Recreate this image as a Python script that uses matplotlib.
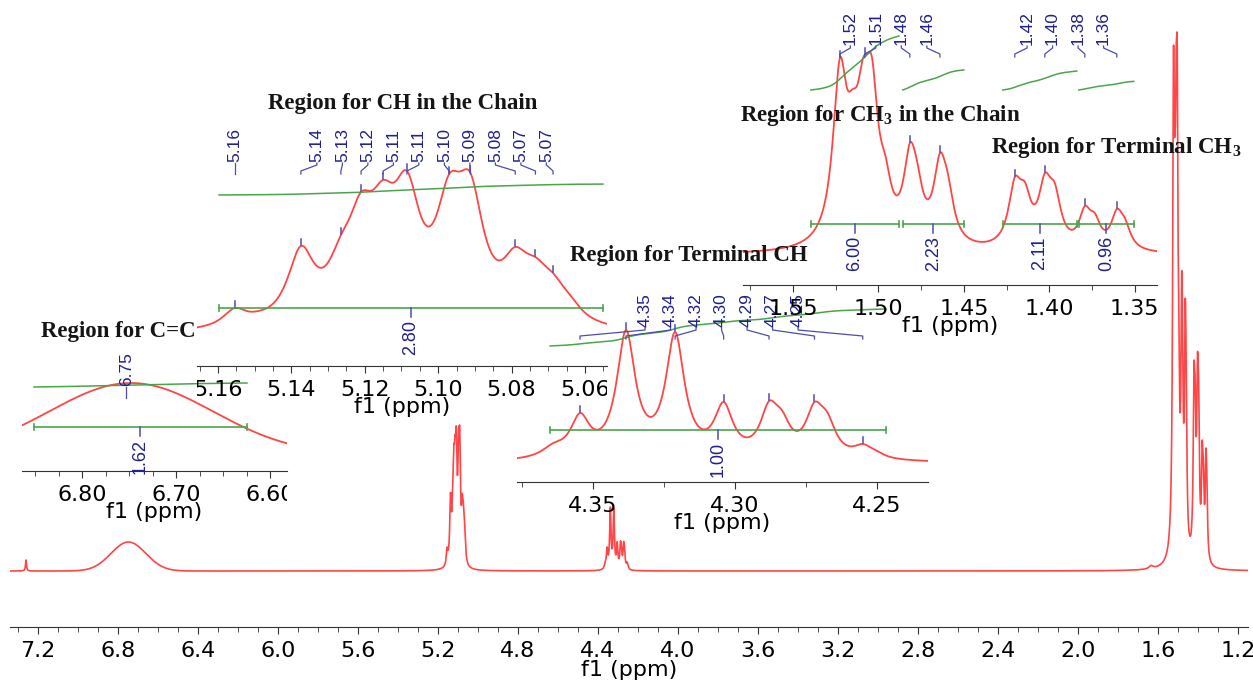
import numpy as np
import matplotlib
matplotlib.use("Agg")
import matplotlib.pyplot as plt
from matplotlib.transforms import Bbox, TransformedBbox

plt.rcParams["mathtext.fontset"] = "custom"
plt.rcParams["mathtext.rm"] = "Liberation Serif:bold"
plt.rcParams["mathtext.bf"] = "Liberation Serif:bold"

W, H = 1253, 683
RED = "#ff4545"
GREEN = "#4aa54a"
NAVY = "#1f1f8f"
BLUE = "#4c4cae"
LABEL_FONT = "Liberation Sans"
SERIF = "Liberation Serif"

# ---- data ----
# peaks: centre (ppm), height above the local baseline, half width (ppm)
cc_ppm = [6.748]
cc_height = [72]
cc_hwhm = [0.1025]

ch_ppm = [5.1554, 5.1490, 5.1374, 5.1265, 5.1210, 5.1150, 5.1085, 5.0970,
          5.0912, 5.0790, 5.0735, 5.0687, 5.0640]
ch_height = [27, 24, 89, 100, 143, 155, 164, 161, 162, 88, 78, 62, 40]
ch_hwhm = [0.0040, 0.0040, 0.0045, 0.0045, 0.0045, 0.0045, 0.0045, 0.0045,
           0.0045, 0.0045, 0.0045, 0.0045, 0.0040]

tch_ppm = [4.3640, 4.3546, 4.3384, 4.3211, 4.3040, 4.2880, 4.2835, 4.2720,
           4.2675, 4.2550, 4.2505]
tch_height = [20, 50, 133, 131, 61, 62, 53, 61, 51, 19, 13]
tch_hwhm = [0.0050, 0.0042, 0.0040, 0.0040, 0.0040, 0.0038, 0.0038, 0.0038,
            0.0038, 0.0040, 0.0040]

ch3_ppm = [1.5225, 1.5150, 1.5090, 1.5038, 1.4960, 1.4816, 1.4775, 1.4640,
           1.4594, 1.4202, 1.4143, 1.4026, 1.3968, 1.3792, 1.3734, 1.3605,
           1.3558]
ch3_height = [197, 166, 197, 198, 100, 112, 95, 102, 82, 78, 73, 82, 72,
              49, 42, 46, 37]
ch3_hwhm = [0.0050, 0.0045, 0.0045, 0.0045, 0.0045, 0.0045, 0.0045, 0.0045,
            0.0045, 0.0045, 0.0045, 0.0045, 0.0045, 0.0042, 0.0042, 0.0042,
            0.0042]

# height of each region in the full spectrum (pixels above the baseline)
main_height = [29, 146, 64, 539]
extra_ppm = [7.26, 1.635]
extra_height = [11, 3]
extra_hwhm = [0.003, 0.012]

# picked peaks
cc_pick = [6.753]
cc_pick_lab = ["6.75"]
ch_pick = [5.1554, 5.1374, 5.1265, 5.1210, 5.1150, 5.1085, 5.0970, 5.0912,
           5.0790, 5.0735, 5.0687]
ch_pick_lab = ["5.16", "5.14", "5.13", "5.12", "5.11", "5.11", "5.10", "5.09",
               "5.08", "5.07", "5.07"]
tch_pick = [4.3546, 4.3384, 4.3211, 4.3040, 4.2880, 4.2720, 4.2550]
tch_pick_lab = ["4.35", "4.34", "4.32", "4.30", "4.29", "4.27", "4.25"]
ch3_pick = [1.5225, 1.5080, 1.4816, 1.4640, 1.4202, 1.4026, 1.3792, 1.3605]
ch3_pick_lab = ["1.52", "1.51", "1.48", "1.46", "1.42", "1.40", "1.38", "1.36"]

# integrals: (from ppm, to ppm) and value
cc_int = [(6.8513, 6.6246)]
cc_int_lab = ["1.62"]
ch_int = [(5.1597, 5.0551)]
ch_int_lab = ["2.80"]
tch_int = [(4.3651, 4.2468)]
tch_int_lab = ["1.00"]
ch3_int = [(1.5395, 1.4880), (1.4857, 1.4500), (1.4272, 1.3839), (1.3827, 1.3506)]
ch3_int_lab = ["6.00", "2.23", "2.11", "0.96"]


def lineshape(x, c, w, gauss):
    d = (x - c) / w
    if gauss:
        return np.exp(-np.log(2) * d ** 2)
    return 1.0 / (1.0 + d ** 2)


def make_region(ppm, height, hwhm, gauss=False):
    c = np.asarray(ppm, float)
    w = np.asarray(hwhm, float)
    A = lineshape(c[:, None], c[None, :], w[None, :], gauss)
    amp = np.clip(np.linalg.solve(A, np.asarray(height, float)), 0, None)

    def f(x):
        x = np.asarray(x, float)
        return (amp * lineshape(x[..., None], c, w, gauss)).sum(axis=-1)
    return f


def px_axes(fig, box):
    x0, x1, ytop, ybot = box
    ax = fig.add_axes([x0 / W, 1 - ybot / H, (x1 - x0) / W, (ybot - ytop) / H])
    ax.set_ylim(0, ybot - ytop)
    ax.patch.set_visible(False)
    for s in ("top", "left", "right"):
        ax.spines[s].set_visible(False)
    ax.spines["bottom"].set_color("#333333")
    ax.set_yticks([])
    return ax


def tick_list(lo, hi, step):
    k0 = np.ceil(lo / step - 1e-6)
    k1 = np.floor(hi / step + 1e-6)
    return np.round(np.arange(k0, k1 + 1) * step, 4)


def style_x(ax, box, xlim, major, minor, fmt):
    x0, x1, ytop, ybot = box
    ax.set_xlim(*xlim)
    lo, hi = min(xlim), max(xlim)
    majors = tick_list(lo, hi, major)
    ax.set_xticks(majors)
    ax.set_xticks(tick_list(lo, hi, minor), minor=True)
    ax.set_xticklabels([fmt % t for t in majors])
    ax.tick_params(axis="x", which="both", direction="out", labelsize=16,
                   pad=5, color="#333333")
    ax.tick_params(axis="x", which="major", length=5)
    ax.tick_params(axis="x", which="minor", length=3.5)
    clip = TransformedBbox(Bbox.from_extents(x0 / W, 0, x1 / W, 1),
                           ax.figure.transFigure)
    for lab in ax.get_xticklabels():
        lab.set_clip_box(clip)
        lab.set_clip_on(True)
    ax.set_xlabel("f1 (ppm)", fontsize=16)
    ax.xaxis.set_label_coords(0.5, -31 / (ybot - ytop))


def draw_inset(fig, box, xlim, major, minor, f, base_Y, picks, pick_lab,
               groups, lab_Y, ints, int_lab, bar_Y, int_Y, int_k,
               peak_ticks=True):
    x0, x1, ytop, ybot = box
    ax = px_axes(fig, box)
    style_x(ax, box, xlim, major, minor, "%.2f")
    off = ybot - base_Y
    xs = np.linspace(xlim[0], xlim[1], 3000)
    ax.plot(xs, off + f(xs), color=RED, lw=1.3)

    # integrals
    yb = ybot - bar_Y
    for (a, b), lab in zip(ints, int_lab):
        ax.plot([a, b], [yb, yb], color=GREEN, lw=1.2, clip_on=False)
        for e in (a, b):
            ax.plot([e, e], [yb - 3, yb + 3], color=GREEN, lw=1.2, clip_on=False)
        m = 0.5 * (a + b)
        ax.plot([m, m], [yb, yb - 9], color=BLUE, lw=1.1, clip_on=False)
        ax.text(m, yb - 12, lab, rotation=90, ha="center", va="top",
                color=NAVY, fontsize=13, family=LABEL_FONT, clip_on=False)
        gx = np.linspace(a, b, 400)
        cum = np.cumsum(f(gx))
        cum = cum / cum[-1]
        ax.plot(gx, (ybot - int_Y) + int_k * float(lab) * cum,
                color=GREEN, lw=1.1, clip_on=False)

    # peak labels
    picks = np.asarray(picks)
    step = 25.5 * (xlim[0] - xlim[1]) / (x1 - x0)
    ylab = ybot - lab_Y
    for g in groups:
        centre = picks[g].mean()
        n = len(g)
        for i, idx in enumerate(g):
            xl = centre + ((n - 1) / 2 - i) * step
            xp = picks[idx]
            ax.text(xl, ylab, pick_lab[idx], rotation=90, ha="center",
                    va="bottom", color=NAVY, fontsize=12.5, family=LABEL_FONT,
                    clip_on=False)
            ax.plot([xl, xl, xp, xp], [ylab - 1, ylab - 3, ylab - 9, ylab - 12],
                    color=BLUE, lw=0.9, clip_on=False)
            if peak_ticks:
                c = off + f(xp)
                ax.plot([xp, xp], [c + 1, c + 7], color=BLUE, lw=1.1,
                        clip_on=False)
    return ax


def main():
    f_cc = make_region(cc_ppm, cc_height, cc_hwhm, gauss=True)
    f_ch = make_region(ch_ppm, ch_height, ch_hwhm)
    f_tch = make_region(tch_ppm, tch_height, tch_hwhm)
    f_ch3 = make_region(ch3_ppm, ch3_height, ch3_hwhm)
    f_extra = make_region(extra_ppm, extra_height, extra_hwhm)
    regions = [(f_cc, cc_ppm), (f_ch, ch_ppm), (f_tch, tch_ppm), (f_ch3, ch3_ppm)]

    fig = plt.figure(figsize=(W / 100, H / 100), dpi=100)
    fig.patch.set_facecolor("white")

    # full spectrum
    box = (10, 1248, 10, 627)
    ax = px_axes(fig, box)
    grid = np.linspace(7.34, 1.15, 25000)
    total = f_extra(grid)
    for (f, pp), h in zip(regions, main_height):
        near = np.linspace(max(pp) + 0.02, min(pp) - 0.02, 4000)
        total = total + h * f(grid) / f(near).max()
    ax.plot(grid, (627 - 571) + total, color=RED, lw=1.2)
    ax.set_xlim(7.34, 1.15)
    majors = np.round(np.arange(7.2, 1.19, -0.4), 1)
    ax.set_xticks(majors)
    ax.set_xticks(np.round(np.arange(7.3, 1.15, -0.1), 1), minor=True)
    ax.set_xticklabels(["%.1f" % t for t in majors])
    ax.tick_params(axis="x", which="both", direction="out", labelsize=16,
                   pad=5, color="#333333")
    ax.tick_params(axis="x", which="major", length=5)
    ax.tick_params(axis="x", which="minor", length=3.5)
    ax.set_xlabel("f1 (ppm)", fontsize=16)
    ax.xaxis.set_label_coords(0.5, -33 / 617)

    # insets
    draw_inset(fig, (22, 287, 340, 471), (6.864, 6.582), 0.1, 0.025, f_cc,
               455, cc_pick, cc_pick_lab, [[0]], 386, cc_int, cc_int_lab,
               427, 387, 2.47, peak_ticks=False)
    draw_inset(fig, (197, 607, 110, 366), (5.1657, 5.054), 0.02, 0.005, f_ch,
               335, ch_pick, ch_pick_lab, [[0], list(range(1, 11))], 162,
               ch_int, ch_int_lab, 308, 195, 3.9)
    draw_inset(fig, (517, 928, 280, 482), (4.3768, 4.232), 0.05, 0.025, f_tch,
               463, tch_pick, tch_pick_lab, [list(range(7))], 327,
               tch_int, tch_int_lab, 430, 346, 37)
    draw_inset(fig, (743, 1157, 5, 285), (1.5792, 1.337), 0.05, 0.025, f_ch3,
               255, ch3_pick, ch3_pick_lab, [[0, 1, 2, 3], [4, 5, 6, 7]], 45,
               ch3_int, ch3_int_lab, 224, 90, 9)

    # region titles
    titles = [("Region for C=C", 118, 331),
              ("Region for CH in the Chain", 403, 103),
              ("Region for Terminal CH", 689, 255),
              (r"Region for CH$_\mathbf{3}$ in the Chain", 880, 116),
              (r"Region for Terminal CH$_\mathbf{3}$", 1116, 148)]
    for s, x, y in titles:
        fig.text(x / W, 1 - y / H, s, ha="center", va="center", fontsize=16.5,
                 family=SERIF, fontweight="bold", color="#151515")

    fig.savefig("out.png", dpi=100)


if __name__ == "__main__":
    main()
